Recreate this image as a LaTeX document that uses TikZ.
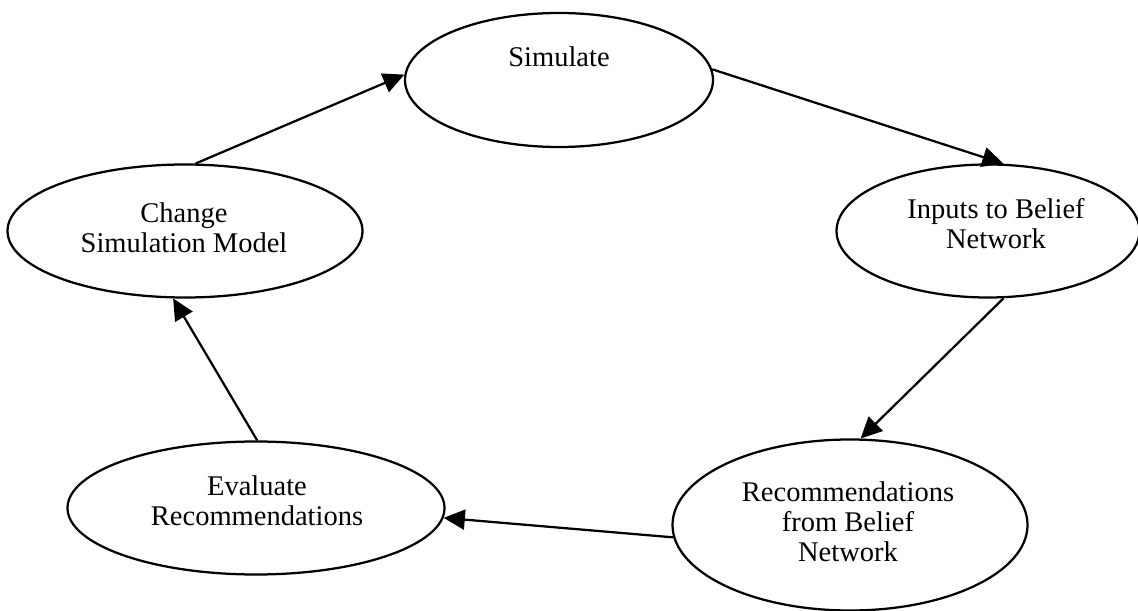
\documentclass[tikz,border=0pt]{standalone}
\usepackage{fontspec}
\setmainfont{Liberation Serif}
\usetikzlibrary{arrows.meta,shapes.geometric}
\tikzset{
  ell/.style={draw=black, line width=0.9pt, ellipse, inner sep=0pt, fill=white},
  lbl/.style={align=center, inner sep=0pt, font=\fontsize{11.4}{12}\selectfont},
  flow/.style={draw=black, line width=0.9pt, -{Triangle[length=8.5pt,width=8pt]}},
}
\begin{document}
\begin{tikzpicture}[x=0.4pt, y=-0.4pt]
  \useasboundingbox (0,0) rectangle (1138,611);

  % cycle stages
  \node[ell, minimum width=123.2pt, minimum height=53.6pt] (sim) at (559,80) {};
  \node[ell, minimum width=121.2pt, minimum height=53.2pt] (inp) at (988,231) {};
  \node[ell, minimum width=142pt,   minimum height=68.4pt] (rec) at (850,525) {};
  \node[ell, minimum width=150.8pt, minimum height=53.2pt] (eva) at (256,508) {};
  \node[ell, minimum width=142pt,   minimum height=53.2pt] (chg) at (185,231) {};

  % stage captions
  \node[lbl] (simT) at (559,57)  {Simulate};
  \node[lbl] (inpT) at (996,224) {Inputs to Belief\\Network};
  \node[lbl] (recT) at (848,522) {Recommendations\\from Belief\\Network};
  \node[lbl] (evaT) at (257,501) {Evaluate\\Recommendations};
  \node[lbl] (chgT) at (184,228) {Change\\Simulation Model};

  % flow around the loop
  \draw[flow] (chg.81)  -- (sim.178);
  \draw[flow] (sim.4)   -- (inp.77);
  \draw[flow] (inp.283) -- (rec.83);
  \draw[flow] (rec.184) -- (eva.-3);
  \draw[flow] (eva.89)  -- (chg.260);
\end{tikzpicture}
\end{document}
